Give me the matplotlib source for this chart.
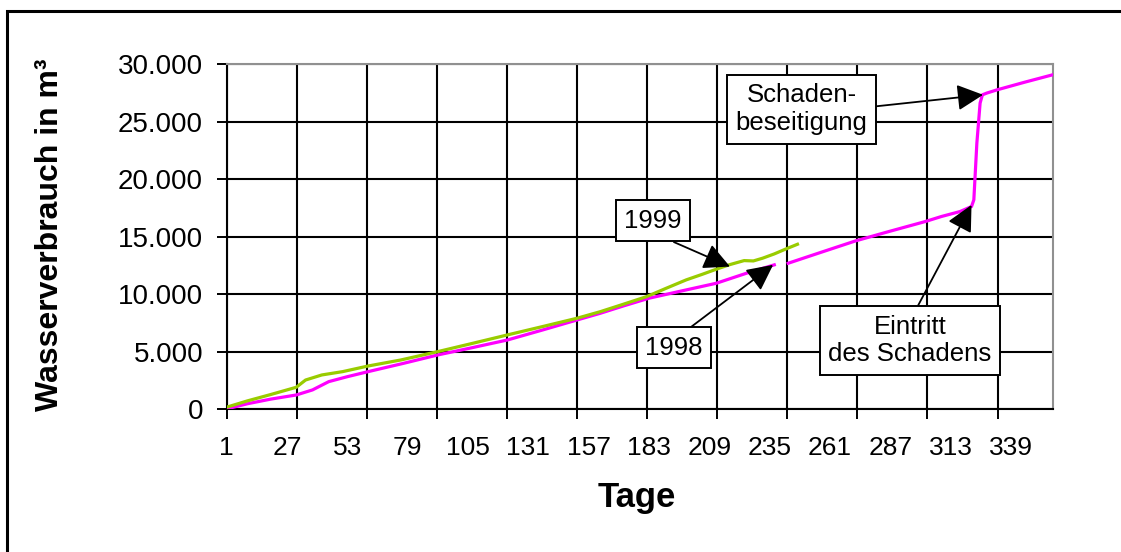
#!/usr/bin/env python3

import numpy as np
import matplotlib
matplotlib.use('Agg')
import matplotlib.pyplot as plt
from matplotlib.patches import Rectangle
from matplotlib.ticker import FuncFormatter

plt.rcParams['font.family'] = ['Liberation Sans', 'DejaVu Sans']

# 1999 (green), cumulative water use in m3
days_1999 = [1, 10, 20, 31, 35, 42, 51, 62, 76, 92, 107, 122, 137, 152, 162, 172,
             182, 190, 199, 206, 212, 218, 224, 228, 232, 237, 242, 247]
vals_1999 = [200, 750, 1300, 1930, 2560, 3000, 3290, 3780, 4300, 5030, 5750, 6480,
             7200, 7930, 8500, 9150, 9810, 10500, 11260, 11750, 12190, 12600, 12940,
             12910, 13150, 13520, 13950, 14360]

# 1998 (magenta), gap in the data around day 240
days_1998 = [1, 10, 20, 31, 38, 45, 53, 62, 77, 92, 107, 122, 137, 152, 162, 172,
             183, 197, 212, 225, 237, 240, 243, 257, 272, 287, 302, 309, 317, 322,
             323, 324.3, 325.7, 326.7, 328.6, 333, 345, 357]
vals_1998 = [50, 500, 900, 1260, 1700, 2420, 2850, 3290, 4000, 4740, 5380, 6040,
             6900, 7780, 8360, 9000, 9670, 10300, 10970, 11840, 12570, np.nan, 12710,
             13650, 14650, 15500, 16330, 16770, 17200, 17640, 18220, 23150, 26630,
             27350, 27500, 27780, 28450, 29090]

label_days = [1, 27, 53, 79, 105, 131, 157, 183, 209, 235, 261, 287, 313, 339]
y_ticks = [0, 5000, 10000, 15000, 20000, 25000, 30000]


fig = plt.figure(figsize=(11.21, 5.52), dpi=100)
ax = fig.add_axes([0.2022, 0.2582, 0.7369, 0.6253])

ax.plot(days_1998, vals_1998, color='#FF00FF', lw=2.3, zorder=3)
ax.plot(days_1999, vals_1999, color='#99CC00', lw=2.3, zorder=3)

ax.set_xlim(1, 357)
ax.set_ylim(0, 30000)

# gridlines / tick marks (roughly monthly) and the day labels are not aligned
grid_days = 1 + np.arange(12) * 30.2
ax.xaxis.remove_overlapping_locs = False
ax.set_xticks(grid_days)
ax.set_xticklabels([])
ax.set_xticks(label_days, minor=True)
ax.set_xticklabels([str(d) for d in label_days], minor=True)
ax.tick_params(axis='x', which='major', direction='out', length=7, width=1.4)
ax.tick_params(axis='x', which='minor', length=0, pad=19, labelsize=19)

ax.set_yticks(y_ticks)
ax.yaxis.set_major_formatter(FuncFormatter(lambda v, p: f"{int(v):,}".replace(',', '.')))
ax.tick_params(axis='y', direction='out', length=7, width=1.4, pad=10, labelsize=20)

ax.grid(True, which='major', color='black', lw=1.5)
ax.set_axisbelow(True)

ax.spines['left'].set_linewidth(1.5)
ax.spines['bottom'].set_linewidth(1.5)
for s in ['top', 'right']:
    ax.spines[s].set_color('#909090')
    ax.spines[s].set_linewidth(1.5)

box = dict(boxstyle='square,pad=0.33', fc='white', ec='black', lw=1.4)


def arrow(rel):
    return dict(arrowstyle='-|>,head_length=0.8,head_width=0.4', mutation_scale=20,
                color='black', lw=1.3, shrinkA=0, shrinkB=0, relpos=rel)


fs = 18.5
ax.annotate('1999', xy=(217.9, 12420), xytext=(184.7, 16390), fontsize=fs,
            ha='center', va='center', bbox=box, arrowprops=arrow((0.5, 0.0)), zorder=5)
ax.annotate('1998', xy=(236.5, 12570), xytext=(193.8, 5350), fontsize=fs,
            ha='center', va='center', bbox=box, arrowprops=arrow((0.59, 1.0)), zorder=5)
ax.annotate('Schaden-\nbeseitigung', xy=(327.0, 27350), xytext=(248.8, 26090),
            fontsize=fs, ha='center', va='center', multialignment='center',
            bbox=box, arrowprops=arrow((1.0, 0.54)), zorder=5)
ax.annotate('Eintritt\ndes Schadens', xy=(322.0, 17780), xytext=(295.5, 6000),
            fontsize=fs, ha='center', va='center', multialignment='center',
            bbox=box, arrowprops=arrow((0.52, 1.0)), zorder=5)

fig.text(50 / 1121, 1 - 235 / 552, 'Wasserverbrauch in m³', rotation=90,
         fontsize=23, fontweight='bold', ha='center', va='center')
fig.text(636.7 / 1121, 1 - 498 / 552, 'Tage', fontsize=25, fontweight='bold',
         ha='center', va='center')

# outer frame, only top and left edges fall inside the picture
fig.patches.append(Rectangle((6.5 / 1121, -0.1), 1.2, 1.1 - 10.5 / 552,
                             transform=fig.transFigure, fill=False,
                             ec='black', lw=2.2))

fig.savefig('out.png', dpi=100)
